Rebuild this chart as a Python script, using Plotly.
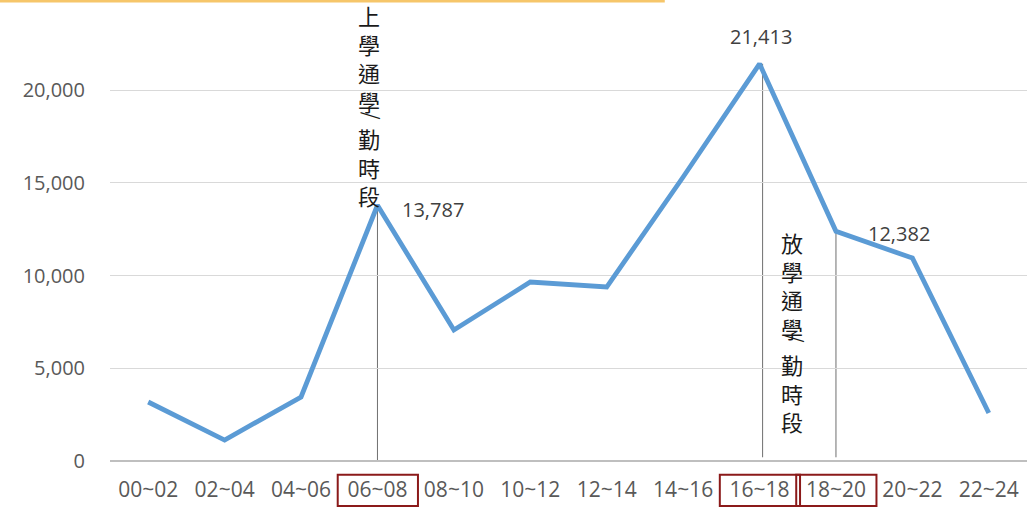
import plotly.graph_objects as go

periods = ["00~02", "02~04", "04~06", "06~08", "08~10", "10~12",
           "12~14", "14~16", "16~18", "18~20", "20~22", "22~24"]
counts = [3180, 1130, 3450, 13787, 7060, 9650, 9380, 15310, 21413, 12382, 10940, 2590]
y_ticks = [0, 5000, 10000, 15000, 20000]
y_tick_text = ["0", "5,000", "10,000", "15,000", "20,000"]
labelled = {"06~08": (56, -4), "16~18": (1, 27), "18~20": (63, -2)}
boxed = ["06~08", "16~18", "18~20"]
marker_lines = ["06~08", "16~18", "18~20"]
note_top = ["上<br>學<br>通<br>學", "放<br>學<br>通<br>學"]
note_bottom = "勤<br>時<br>段"

LINE_BLUE = "#5B9BD5"
TICK = "#595959"
CJK = "Noto Sans CJK TC"
NUM = "Open Sans"

PLOT_TOP, PLOT_BOTTOM = 0, 461
PX_PER_UNIT = 92.75 / 5000


def px2val(py):
    return (PLOT_BOTTOM - py) / PX_PER_UNIT


def px2idx(px):
    return (px - 148) / 76.4


fig = go.Figure()
fig.add_trace(go.Scatter(x=list(range(len(periods))), y=counts, mode="lines",
                         line=dict(color=LINE_BLUE, width=4.8), hoverinfo="skip"))

shapes = []
for p in marker_lines:
    i = periods.index(p)
    off = 0.04 if p == "16~18" else 0
    shapes.append(dict(type="line", xref="x", yref="y", x0=i + off, x1=i + off,
                       y0=counts[i], y1=200 if p != "06~08" else 0,
                       line=dict(color="#6f6f6f", width=1), layer="below"))
for p in boxed:
    i = periods.index(p)
    shapes.append(dict(type="rect", xref="x", yref="paper", x0=i - 0.52, x1=i + 0.53,
                       y0=-0.0976, y1=-0.030, line=dict(color="#8B1A1A", width=2)))
# decorative orange band at top
shapes.append(dict(type="line", xref="paper", yref="paper", x0=-0.13, x1=0.605, y0=0.999, y1=0.999,
                   line=dict(color="#F6C66A", width=4)))

annotations = []
for p, (dx, dy) in labelled.items():
    i = periods.index(p)
    annotations.append(dict(x=i, y=counts[i], xref="x", yref="y", text=f"{counts[i]:,}",
                            showarrow=False, xshift=dx, yshift=dy,
                            font=dict(family=NUM, size=20, color="#404040")))

vt_font = dict(family=CJK, size=22, color="#1a1a1a")
layouts = [
    dict(cx=369, top=58, bottom=166, slash=(373, 116)),
    dict(cx=792, top=285, bottom=392, slash=(797, 339)),
]
for text, lay in zip(note_top, layouts):
    annotations.append(dict(x=px2idx(lay["cx"]), y=px2val(lay["top"]), xref="x", yref="y",
                            text=text, showarrow=False, font=vt_font))
    annotations.append(dict(x=px2idx(lay["cx"]), y=px2val(lay["bottom"]), xref="x", yref="y",
                            text=note_bottom, showarrow=False, font=vt_font))
    sx, sy = lay["slash"]
    annotations.append(dict(x=px2idx(sx), y=px2val(sy), xref="x", yref="y",
                            text="/", textangle=90, showarrow=False,
                            font=dict(family=CJK, size=20, color="#1a1a1a")))

fig.update_layout(
    width=1031, height=509,
    margin=dict(l=110, r=4, t=0, b=48, pad=0),
    paper_bgcolor="white", plot_bgcolor="white",
    showlegend=False,
    shapes=shapes, annotations=annotations,
    xaxis=dict(range=[-0.5, len(periods) - 0.5], tickmode="array",
               tickvals=list(range(len(periods))), ticktext=periods,
               showgrid=False, zeroline=False, showline=False, ticks="",
               automargin=False, ticklabelstandoff=14,
               tickfont=dict(family=NUM, size=21, color=TICK)),
    yaxis=dict(range=[0, px2val(PLOT_TOP)], tickmode="array", tickvals=y_ticks,
               ticktext=y_tick_text,
               showgrid=True, gridcolor="#D9D9D9", gridwidth=1,
               zeroline=True, zerolinecolor="#BFBFBF", zerolinewidth=1.5,
               showline=False, ticks="", ticklabelstandoff=24, automargin=False,
               tickfont=dict(family=NUM, size=20, color=TICK)),
)

fig.write_html("out.html", config={"displayModeBar": False},
               post_script="document.body.style.margin='0';")
